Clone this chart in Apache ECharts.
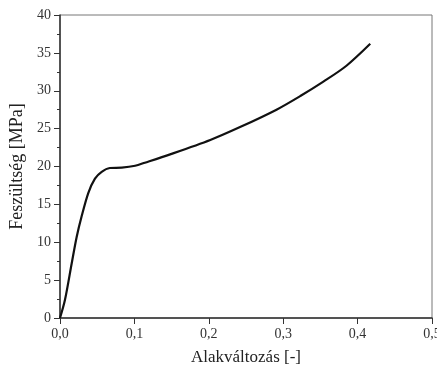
<!DOCTYPE html>
<html>
<head>
<meta charset="utf-8">
<script src="https://cdn.jsdelivr.net/npm/echarts@6/dist/echarts.min.js"></script>
<style>
  html, body { margin: 0; padding: 0; background: #fff; }
  #chart { width: 437px; height: 365px; }
</style>
</head>
<body>
<div id="chart"></div>
<script>
// strain [-] and stress [MPa]
const strain = [0, 0.0067, 0.0157, 0.0224, 0.029, 0.038, 0.047, 0.056, 0.067, 0.083, 0.101, 0.114, 0.148, 0.202, 0.242, 0.291, 0.323, 0.354, 0.385, 0.417];
const stress = [0, 2.4, 7.2, 10.7, 13.4, 16.5, 18.4, 19.3, 19.8, 19.85, 20.1, 20.5, 21.6, 23.5, 25.2, 27.5, 29.3, 31.2, 33.3, 36.2];
const xTicks = [0, 0.1, 0.2, 0.3, 0.4, 0.5];
const yTicks = [0, 5, 10, 15, 20, 25, 30, 35, 40];

const font = "'Liberation Serif', 'DejaVu Serif', serif";
const myChart = echarts.init(document.getElementById("chart"));

myChart.setOption({
  animation: false,
  grid: {
    left: 60, right: 5, top: 15, bottom: 47,
    outerBoundsMode: "none", containLabel: false,
    show: true, borderColor: "#777", borderWidth: 1
  },
  xAxis: {
    type: "value",
    min: xTicks[0], max: xTicks[xTicks.length - 1], interval: 0.1,
    name: "Alakváltozás [-]",
    nameLocation: "middle", nameGap: 31,
    nameTextStyle: { fontFamily: font, fontSize: 17, color: "#222" },
    axisLine: { show: true, lineStyle: { color: "#333", width: 1.5 } },
    axisTick: { show: true, inside: false, length: 6, lineStyle: { color: "#333" } },
    axisLabel: {
      fontFamily: font, fontSize: 14, color: "#333", margin: 9,
      formatter: (v) => v.toFixed(1).replace(".", ",")
    },
    splitLine: { show: false }
  },
  yAxis: {
    type: "value",
    min: yTicks[0], max: yTicks[yTicks.length - 1], interval: 5,
    name: "Feszültség [MPa]",
    nameLocation: "middle", nameGap: 34,
    nameTextStyle: { fontFamily: font, fontSize: 18, color: "#222" },
    axisLine: { show: true, lineStyle: { color: "#333", width: 1.5 } },
    axisTick: { show: true, inside: false, length: 6, lineStyle: { color: "#333" } },
    minorTick: { show: true, splitNumber: 2, length: 3, lineStyle: { color: "#333" } },
    axisLabel: { fontFamily: font, fontSize: 14, color: "#333", margin: 9 },
    splitLine: { show: false }
  },
  series: [
    {
      type: "line",
      data: strain.map((x, i) => [x, stress[i]]),
      smooth: 0.3,
      showSymbol: false,
      lineStyle: { color: "#111", width: 2.2 }
    }
  ]
});
</script>
</body>
</html>
